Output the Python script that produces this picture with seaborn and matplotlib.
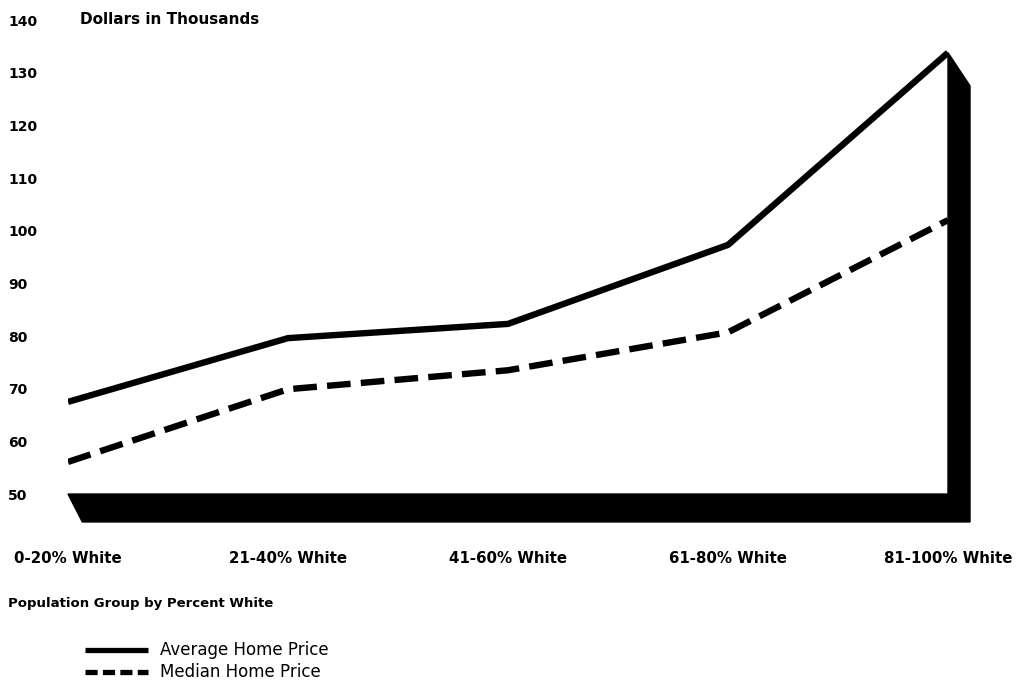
import matplotlib as mpl
mpl.use("agg")
import matplotlib.pyplot as plt
import seaborn as sns
import pandas as pd

groups = ["0-20% White", "21-40% White", "41-60% White", "61-80% White", "81-100% White"]
average_price = [67.5, 79.6, 82.3, 97.3, 133.8]
median_price = [56.1, 69.9, 73.5, 80.7, 102.0]
y_ticks = [50, 60, 70, 80, 90, 100, 110, 120, 130, 140]

sns.set_style("white")
plt.rcParams["font.family"] = ["DejaVu Sans"]
plt.rcParams["text.color"] = "black"
plt.rcParams["xtick.color"] = "black"
plt.rcParams["ytick.color"] = "black"

data = pd.DataFrame({
    "pos": list(range(len(groups))) * 2,
    "price": average_price + median_price,
    "series": ["Average Home Price"] * len(groups) + ["Median Home Price"] * len(groups),
})

fig = plt.figure(figsize=(10.24, 6.88), dpi=100)
ax = fig.add_axes([68 / 1024, 1 - 523 / 688, 880 / 1024, (523 - 20) / 688])

n = len(groups) - 1
floor = 50
# 3-D style floor under the plot and wall at the right end
ax.fill([0, n, n + 0.1, 0.065], [floor, floor, floor - 5.3, floor - 5.3],
        color="black", clip_on=False, zorder=1)
ax.fill([n, n + 0.1, n + 0.1, n], [average_price[-1], average_price[-1] - 6.3, floor - 5.3, floor],
        color="black", clip_on=False, zorder=1)

sns.lineplot(data=data[data.series == "Average Home Price"], x="pos", y="price",
             ax=ax, color="black", lw=4.6, solid_capstyle="butt", zorder=3)
sns.lineplot(data=data[data.series == "Median Home Price"], x="pos", y="price",
             ax=ax, color="black", lw=4.6, dashes=(2.4, 1.0), linestyle="--", zorder=3)

ax.set_xlim(0, n)
ax.set_ylim(44.5, 140)
sns.despine(ax=ax, left=True, bottom=True)

ax.set_yticks(y_ticks)
ax.set_yticklabels([str(t) for t in y_ticks], fontsize=10, fontweight="bold", ha="left")
ax.tick_params(axis="y", length=0, pad=43)
ax.set_xticks(range(len(groups)))
ax.set_xticklabels(groups, fontsize=10.8, fontweight="bold")
ax.tick_params(axis="x", length=0, pad=20)
ax.set_xlabel("")
ax.set_ylabel("")

fig.text(80 / 1024, 1 - 20 / 688, "Dollars in Thousands", fontsize=11, fontweight="bold",
         va="center", ha="left")
fig.text(8 / 1024, 1 - 604 / 688, "Population Group by Percent White", fontsize=9.5,
         fontweight="bold", va="center", ha="left")

# legend drawn by hand below the axis title
fig.add_artist(plt.Line2D([85 / 1024, 148 / 1024], [1 - 650 / 688] * 2, color="black", lw=3.8,
                          solid_capstyle="butt"))
fig.add_artist(plt.Line2D([85 / 1024, 148 / 1024], [1 - 672 / 688] * 2, color="black", lw=3.8,
                          linestyle="--", dashes=(2.3, 1.0)))
fig.text(160 / 1024, 1 - 650 / 688, "Average Home Price", fontsize=12, va="center", ha="left")
fig.text(160 / 1024, 1 - 672 / 688, "Median Home Price", fontsize=12, va="center", ha="left")

fig.savefig("out.png", dpi=100, facecolor="white")
